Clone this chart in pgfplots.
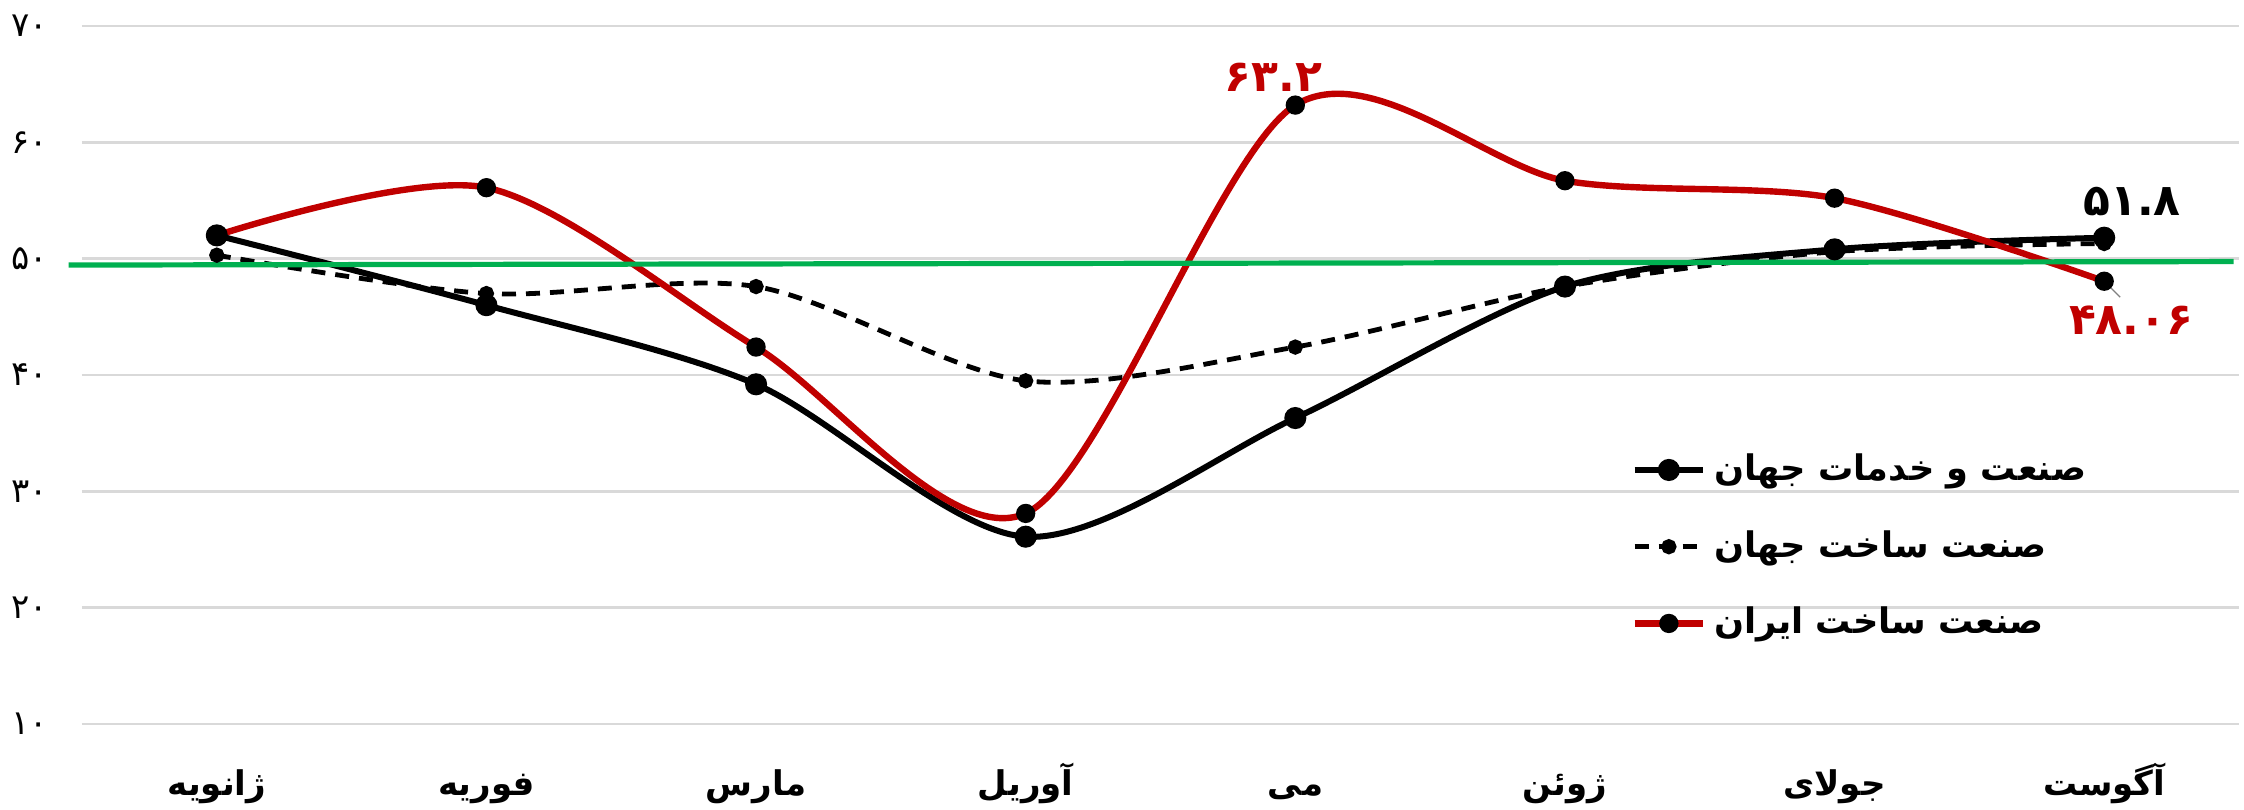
\documentclass[border=0pt]{standalone}
\usepackage{fontspec}
\usepackage{pgfplots}
\pgfplotsset{compat=1.18}
\TeXXeTstate=1
\newfontfamily\arabicfont[Script=Arabic]{DejaVu Sans}
\definecolor{irred}{RGB}{192,0,0}
\definecolor{lgreen}{RGB}{0,176,80}
\definecolor{gridgray}{RGB}{217,217,217}

\begin{document}
\begin{tikzpicture}
\useasboundingbox (-20.5pt,-21.5pt) rectangle (540.5pt,181pt);
\begin{axis}[
    at={(0,0)}, anchor=south west,
    width=539.25pt, height=174.5pt, scale only axis,
    xmin=-0.5, xmax=7.5, ymin=10, ymax=70,
    axis line style={draw=none},
    major tick length=0pt,
    clip=false,
    ytick={10,20,...,70},
    yticklabels={۱۰,۲۰,۳۰,۴۰,۵۰,۶۰,۷۰},
    yticklabel style={font=\arabicfont\fontsize{8.5}{8.5}\selectfont, xshift=-5pt},
    xtick={0,...,7},
    xticklabels={{\beginR ژانویه\endR},{\beginR فوریه\endR},{\beginR مارس\endR},{\beginR آوریل\endR},{\beginR می\endR},{\beginR ژوئن\endR},{\beginR جولای\endR},{\beginR آگوست\endR}},
    xticklabel style={font=\arabicfont\bfseries\fontsize{8.5}{8.5}\selectfont, anchor=base, yshift=-18pt},
    ymajorgrids,
    major grid style={gridgray, line width=0.6pt},
    legend style={draw=none, fill=none, inner sep=0pt, at={(0.718,0.40)}, anchor=north west,
        font=\arabicfont\bfseries\fontsize{8.8}{8.8}\selectfont, row sep=7pt},
    legend cell align=left,
]
% صنعت و خدمات جهان
\addplot[black, line width=1.5pt, smooth, mark=*, mark size=2pt] coordinates {
    (0,52.0) (1,46.0) (2,39.2) (3,26.1) (4,36.3) (5,47.6) (6,50.8) (7,51.8)
};
\addlegendentry{\beginR صنعت و خدمات جهان\endR}
% صنعت ساخت جهان
\addplot[black, line width=1.2pt, dash pattern=on 3.5pt off 2.5pt, smooth, mark=*, mark size=1.3pt, mark options={solid}] coordinates {
    (0,50.3) (1,47.0) (2,47.6) (3,39.5) (4,42.4) (5,47.6) (6,50.6) (7,51.3)
};
\addlegendentry{\beginR صنعت ساخت جهان\endR}
% صنعت ساخت ایران
\addplot[irred, line width=1.6pt, smooth, mark=*, mark size=1.6pt, mark options={fill=black, draw=black}] coordinates {
    (0,52.0) (1,56.1) (2,42.4) (3,28.1) (4,63.2) (5,56.7) (6,55.2) (7,48.06)
};
\addlegendentry{\beginR صنعت ساخت ایران\endR}
% خط ۵۰
\addplot[lgreen, line width=1.3pt, forget plot] coordinates {(-0.55,49.45) (7.48,49.75)};

\node[irred, font=\arabicfont\bfseries\fontsize{11}{11}\selectfont, xshift=-5.5pt, yshift=7pt] at (axis cs:4,63.2) {۶۳.۲};
\node[black, font=\arabicfont\bfseries\fontsize{11}{11}\selectfont, xshift=7pt, yshift=9pt] at (axis cs:7,51.8) {۵۱.۸};
\draw[gray, line width=0.3pt] (axis cs:7,48.06) -- ++(4pt,-4pt);
\node[irred, font=\arabicfont\bfseries\fontsize{11}{11}\selectfont, xshift=6.75pt, yshift=-9.75pt] at (axis cs:7,48.06) {۴۸.۰۶};
\end{axis}
\end{tikzpicture}
\end{document}
